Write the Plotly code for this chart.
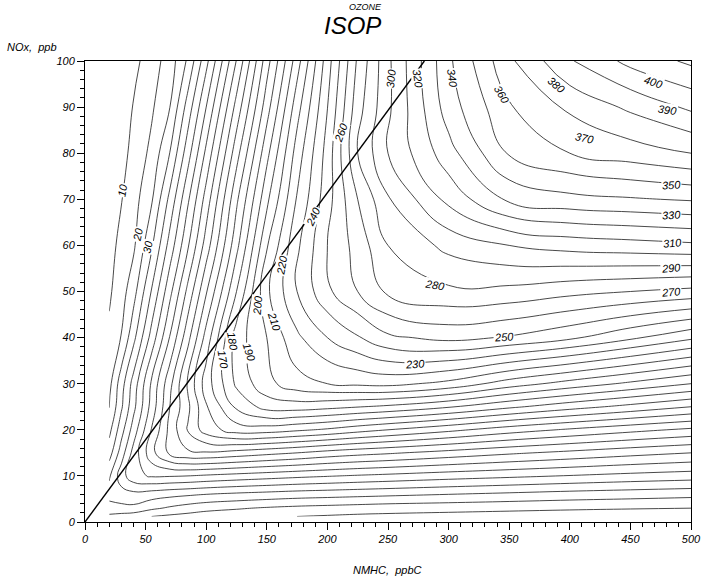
import plotly.graph_objects as go

# ---- data ----
nmhc = [20, 30, 40, 55, 70, 85, 100, 125, 150, 175, 200, 225, 250, 300, 350, 400, 450, 500]
nox = [1.2, 3, 6, 10, 15, 20, 25, 30, 40, 50, 60, 70, 80, 90, 100]

o3_nox_1p2 = [38, 36, 34, 30, 28, 26.5, 25, 23.5, 21.5, 20, 19, 18, 17.5, 16.5, 15.5, 14.5, 13.5, 12.5]
o3_nox_3 = [45.7, 47, 47.5, 42, 38.5, 35.5, 33, 31, 29, 27.5, 26.5, 25.5, 24.5, 23.5, 22.5, 21.5, 20.7, 20]
o3_nox_6 = [54, 56, 57, 55, 53, 51.5, 50, 48, 46.5, 45, 44, 43, 42, 40, 38, 36, 34.5, 33]
o3_nox_10 = [48.5, 65.5, 77, 81.2, 80.8, 80, 78.5, 76.4, 74.4, 72.4, 70.7, 69, 67.5, 64.5, 62, 59.5, 57, 55]
o3_nox_15 = [35.5, 55, 73.6, 96.8, 112.3, 118.3, 119, 116.2, 113, 110, 106.3, 103.5, 101.3, 96.4, 91.6, 87.5, 83.5, 80]
o3_nox_20 = [27, 46, 64.5, 90.7, 113, 131, 145, 155, 155, 151.8, 148.5, 144, 140, 132.6, 124.8, 118.6, 113, 108]
o3_nox_25 = [19.7, 38.5, 57, 84, 110, 128, 149, 172, 184, 185, 183, 180.5, 178, 171, 162, 154, 147, 140]
o3_nox_30 = [17, 35.5, 54, 81.8, 107, 132, 155, 182, 197, 206, 210, 212, 213, 207, 195, 186, 178, 170]
o3_nox_40 = [12, 20.5, 37, 64, 90.6, 117, 144, 185, 200, 218, 230, 239, 248, 253, 249, 242, 232, 222]
o3_nox_50 = [8.5, 15.8, 26, 50.8, 77, 103, 129, 170, 208, 230, 248, 260, 272, 278, 277, 273, 270, 267]
o3_nox_60 = [7, 12.4, 18.2, 38.5, 64, 89, 114.6, 157, 199, 228, 250, 264, 280, 293, 300, 304, 306, 308]
o3_nox_70 = [5.5, 9.6, 15.9, 28.8, 52.8, 78.6, 104.2, 148, 187.5, 221, 246, 270, 289, 313, 332, 337, 339, 341]
o3_nox_80 = [4, 7, 12.6, 22.7, 40.2, 66, 92.4, 136, 177, 214.6, 244, 280, 300, 326, 351, 360, 365, 370]
o3_nox_90 = [3, 5.5, 10.5, 18.5, 29.9, 54.5, 80, 123.6, 165.6, 206, 239.8, 276, 298, 335, 359, 372, 382, 392]
o3_nox_100 = [2, 4, 7, 15.3, 24.6, 41.9, 67, 110.5, 155.7, 195.5, 235.4, 271.7, 298, 338, 368, 389, 403, 412]

ridge_nmhc = [0, 280]
ridge_nox = [0, 100]

x_ticks = [0, 50, 100, 150, 200, 250, 300, 350, 400, 450, 500]
y_ticks = [0, 10, 20, 30, 40, 50, 60, 70, 80, 90, 100]

# contour labels: value, NMHC, NOx, text angle
label_values = [10, 20, 30, 170, 180, 190, 200, 210, 220, 240, 260, 300, 320, 340, 360, 380,
                400, 390, 370, 350, 330, 310, 290, 270, 280, 250, 230]
label_nmhc = [31, 43.4, 51.5, 113.8, 122, 135.5, 142.3, 155.8, 162.6, 188, 211, 252, 275, 303.5, 344, 389,
              469, 481, 412, 483.7, 483.7, 485, 483.7, 483.7, 288.6, 345.5, 272.4]
label_nox = [72, 62.3, 59.7, 35.1, 39.1, 36.9, 47.1, 43.5, 55.7, 66.2, 84.4, 96.2, 96.2, 96.2, 92.6, 94.8,
             95.4, 89.4, 83.2, 73.1, 66.6, 60.5, 55.2, 50, 51.5, 40.2, 34.3]
label_angle = [-80, -78, -78, 80, 80, 72, -85, 72, -80, -65, -70, -85, 82, 82, 60, 40,
               18, 8, 12, -3, -3, -5, -5, -5, 10, -4, -3]

z = [o3_nox_1p2, o3_nox_3, o3_nox_6, o3_nox_10, o3_nox_15, o3_nox_20, o3_nox_25, o3_nox_30,
     o3_nox_40, o3_nox_50, o3_nox_60, o3_nox_70, o3_nox_80, o3_nox_90, o3_nox_100]

FONT = "Liberation Sans"

fig = go.Figure()
fig.add_trace(go.Contour(
    x=nmhc, y=nox, z=z,
    contours=dict(start=10, end=410, size=10, coloring="lines", showlabels=False),
    colorscale=[[0, "#1a1a1a"], [1, "#1a1a1a"]],
    line=dict(width=0.8, smoothing=1.3),
    showscale=False, hoverinfo="skip",
))
fig.add_trace(go.Scatter(
    x=ridge_nmhc, y=ridge_nox, mode="lines",
    line=dict(color="black", width=1.4), hoverinfo="skip",
))

annotations = []
for v, xn, yn, a in zip(label_values, label_nmhc, label_nox, label_angle):
    annotations.append(dict(
        x=xn, y=yn, xref="x", yref="y", text=str(v), showarrow=False, textangle=a,
        font=dict(family=FONT, size=11, style="italic", color="black"),
        bgcolor="white", borderpad=0,
    ))

annotations += [
    dict(text="OZONE", x=0.4635, y=1.133, xref="paper", yref="paper", showarrow=False,
         xanchor="center", yanchor="top",
         font=dict(family=FONT, size=9, style="italic", color="black")),
    dict(text="ISOP", x=0.4407, y=1.078, xref="paper", yref="paper", showarrow=False,
         xanchor="center", yanchor="middle",
         font=dict(family=FONT, size=24, style="italic", color="black")),
    dict(text="NOx,  ppb", x=-0.132, y=1.030, xref="paper", yref="paper", showarrow=False,
         xanchor="left", yanchor="middle",
         font=dict(family=FONT, size=11, style="italic", color="black")),
    dict(text="NMHC,  ppbC", x=0.499, y=-0.104, xref="paper", yref="paper", showarrow=False,
         xanchor="center", yanchor="middle",
         font=dict(family=FONT, size=11, style="italic", color="black")),
]

axis_common = dict(
    showgrid=False, zeroline=False, showline=True, linecolor="black", linewidth=1,
    mirror=True, ticks="outside", tickcolor="black", ticklen=7, tickwidth=1,
    tickfont=dict(family=FONT, size=11, style="italic", color="black"),
)

fig.update_layout(
    width=713, height=584,
    margin=dict(l=85, r=13, t=61, b=62),
    plot_bgcolor="white", paper_bgcolor="white",
    showlegend=False,
    annotations=annotations,
    xaxis=dict(range=[0, 500], tickvals=x_ticks, ticktext=[str(t) for t in x_ticks],
               minor=dict(dtick=10, ticklen=4, ticks="outside", tickcolor="black"),
               **axis_common),
    yaxis=dict(range=[0, 100], tickvals=y_ticks, ticktext=[str(t) for t in y_ticks],
               minor=dict(dtick=2, ticklen=4, ticks="outside", tickcolor="black"),
               **axis_common),
)

fig.write_html("out.html")
